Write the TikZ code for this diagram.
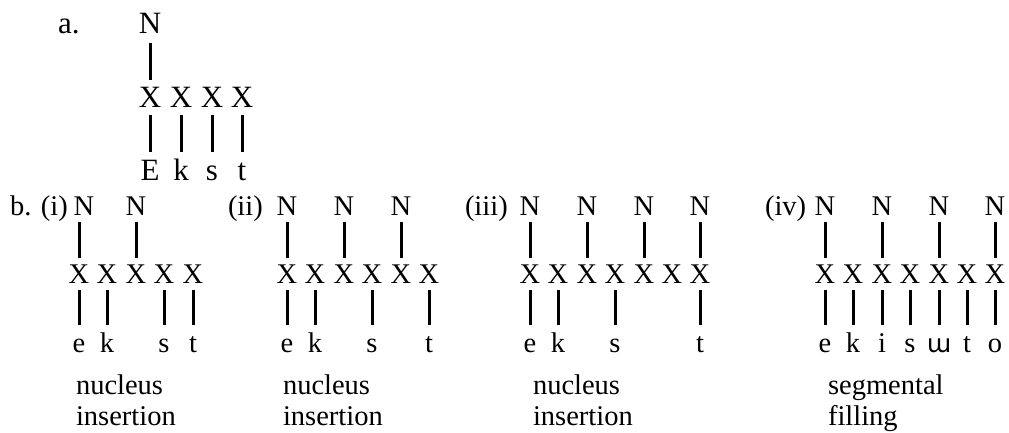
\documentclass[tikz,border=0pt]{standalone}
\usepackage{fontspec}
\setmainfont{Liberation Serif}
\newfontfamily\ipafont{DejaVu Sans}
\begin{document}
\begin{tikzpicture}[x=1pt,y=-1pt,
  sy/.style={inner sep=0pt, outer sep=0pt, anchor=base},
  fa/.style={font=\fontsize{31}{36}\selectfont},
  fb/.style={font=\fontsize{28.5}{33}\selectfont},
  sega/.style={text height=14pt, text depth=0pt},
  segb/.style={text height=13pt, text depth=0pt},
  bar/.style={line width=3pt},
]
\useasboundingbox (0,0) rectangle (1009,432);

% ---------- part a ----------
\node[sy,fa,anchor=base west] (alab) at (58,33) {a.};
\node[sy,fa] (aN) at (150,33) {N};
\foreach \k/\xx/\seg in {1/150/E,2/181/k,3/212/s,4/242/t} {
  \node[sy,fa] (aX\k) at (\xx,107) {X};
  \node[sy,fa,sega] (aS\k) at (\xx,180) {\seg};
  \draw[bar,shorten <=8pt,shorten >=14pt] (aX\k.south) -- (aS\k.north);
}
\draw[bar,shorten <=6.5pt,shorten >=10pt] (aX1.north) -- (aN.south);

% ---------- part b ----------
\node[sy,fb,anchor=base west] (blab) at (10,215) {b. (i)};
\node[sy,fb,anchor=base west] (iilab) at (228,215) {(ii)};
\node[sy,fb,anchor=base west] (iiilab) at (465,215) {(iii)};
\node[sy,fb,anchor=base west] (ivlab) at (765,215) {(iv)};

\foreach \pp/\st/\n in {i/79/5,ii/287/6,iii/530/7,iv/825/7}
  \foreach \k in {1,...,\n}
    \node[sy,fb] (X-\pp-\k) at ({round(\st+(\k-1)*28.4)},283) {X};

\foreach \pp/\k/\dx in {i/1/5,i/3/0,ii/1/0,ii/3/0,ii/5/0,
    iii/1/0,iii/3/0,iii/5/0,iii/7/0,iv/1/0,iv/3/0,iv/5/0,iv/7/0} {
    \path (X-\pp-\k.base) ++(\dx,-68) node[sy,fb] (N-\pp-\k) {N};
    \draw[bar,shorten <=6.3pt,shorten >=7pt] (X-\pp-\k.north) -- (X-\pp-\k.north |- N-\pp-\k.south);
  }

\foreach \pp/\k/\seg in {i/1/e,i/2/k,i/4/s,i/5/t,
    ii/1/e,ii/2/k,ii/4/s,ii/6/t,
    iii/1/e,iii/2/k,iii/4/s,iii/7/t,
    iv/1/e,iv/2/k,iv/3/i,iv/4/s,iv/5/{{\ipafont\fontsize{25}{30}\selectfont ɯ}},iv/6/t,iv/7/o} {
  \path (X-\pp-\k.base) ++(0,69) node[sy,fb,segb] (S-\pp-\k) {\seg};
  \draw[bar,shorten <=7pt,shorten >=14pt] (X-\pp-\k.south) -- (S-\pp-\k.north);
}

\node[sy,fb,anchor=base west] (L-i-1) at (76,394) {nucleus};
\node[sy,fb,anchor=base west] (L-i-2) at (76,425) {insertion};
\node[sy,fb,anchor=base west] (L-ii-1) at (283,394) {nucleus};
\node[sy,fb,anchor=base west] (L-ii-2) at (283,425) {insertion};
\node[sy,fb,anchor=base west] (L-iii-1) at (533,394) {nucleus};
\node[sy,fb,anchor=base west] (L-iii-2) at (533,425) {insertion};
\node[sy,fb,anchor=base west] (L-iv-1) at (828,394) {segmental};
\node[sy,fb,anchor=base west] (L-iv-2) at (828,425) {filling};
\end{tikzpicture}
\end{document}
